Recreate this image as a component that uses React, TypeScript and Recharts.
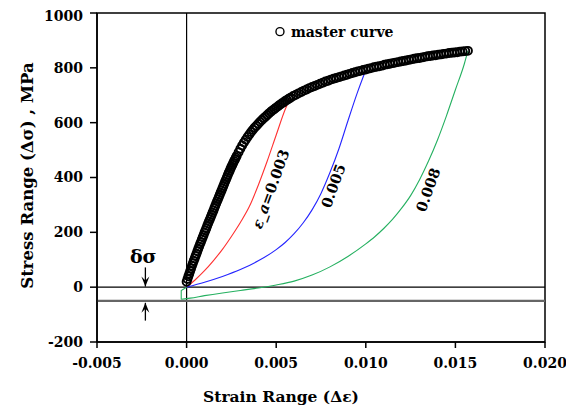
import React from 'react';
import { ComposedChart, Line, Scatter, XAxis, YAxis, ReferenceLine, ReferenceArea } from 'recharts';

const FONT = '"DejaVu Serif", serif';

const xTicks = [-0.005, 0, 0.005, 0.01, 0.015, 0.02];
const yTicks = [-200, 0, 200, 400, 600, 800, 1000];

const masterStrain = [
  0.0, 0.00005, 0.0001, 0.00015, 0.0002, 0.00025, 0.0003, 0.00035, 0.0004, 0.00045,
  0.0005, 0.00055, 0.0006, 0.00065, 0.0007, 0.00075, 0.0008, 0.00085, 0.0009, 0.00095,
  0.001, 0.00105, 0.0011, 0.00115, 0.0012, 0.00125, 0.0013, 0.00135, 0.0014, 0.00145,
  0.0015, 0.00155, 0.0016, 0.00165, 0.0017, 0.00175, 0.0018, 0.00185, 0.0019, 0.00195,
  0.002, 0.00205, 0.0021, 0.00215, 0.0022, 0.00225, 0.0023, 0.00235, 0.0024, 0.00245,
  0.0025, 0.00255, 0.0026, 0.00265, 0.0027, 0.00275, 0.0028,
  0.0029, 0.003, 0.0031, 0.0032, 0.0033, 0.0034, 0.0035, 0.0036, 0.0037, 0.0038,
  0.0039, 0.004, 0.0041, 0.0042, 0.0043, 0.0044, 0.0045, 0.0046, 0.0047, 0.0048,
  0.0049, 0.005, 0.0051, 0.0052, 0.0053, 0.0054, 0.0055, 0.0056, 0.0057, 0.0058,
  0.00595, 0.0061, 0.00625, 0.0064, 0.00655, 0.0067, 0.00685, 0.007, 0.00715, 0.0073,
  0.00745, 0.0076, 0.00775, 0.0079, 0.00805, 0.0082, 0.00835, 0.0085, 0.00865, 0.0088,
  0.00895, 0.0091, 0.00925, 0.0094, 0.00955, 0.0097, 0.00985, 0.01, 0.01015, 0.0103,
  0.01045, 0.0106, 0.01075, 0.0109, 0.01105, 0.0112, 0.01135, 0.0115, 0.01165, 0.0118,
  0.01195, 0.0121, 0.01225, 0.0124, 0.01255, 0.0127, 0.01285, 0.013, 0.01315, 0.0133,
  0.01345, 0.0136, 0.01375, 0.0139, 0.01405, 0.0142, 0.01435, 0.0145, 0.01465, 0.0148,
  0.01495, 0.0151, 0.01525, 0.0154, 0.01555, 0.0157,
];
const masterStress = [
  20, 30, 40, 49, 59, 68, 78, 87, 96, 105,
  114, 122, 131, 140, 148, 157, 165, 174, 182, 190,
  199, 207, 215, 224, 232, 240, 248, 256, 264, 272,
  280, 289, 297, 305, 313, 321, 329, 337, 345, 353,
  361, 369, 377, 385, 393, 401, 409, 417, 424, 432,
  439, 446, 453, 460, 466, 473, 479,
  492, 505, 517, 528, 538, 548, 557, 566, 574, 582,
  589, 596, 603, 610, 616, 622, 628, 634, 640, 645,
  650, 655, 660, 665, 670, 674, 679, 683, 687, 691,
  697, 702, 707, 712, 717, 721, 726, 730, 734, 738,
  742, 746, 750, 753, 757, 760, 763, 766, 769, 772,
  775, 778, 781, 784, 787, 789, 792, 794, 797, 799,
  802, 804, 806, 808, 811, 813, 815, 817, 819, 821,
  823, 825, 827, 829, 831, 833, 835, 836, 838, 840,
  842, 843, 845, 846, 848, 849, 851, 852, 854, 855,
  856, 857, 859, 860, 861, 862,
];

const redStrain = [0, 0.0005, 0.001, 0.0015, 0.002, 0.0025, 0.003, 0.0035, 0.004, 0.0045, 0.005, 0.0055, 0.0058];
const redStress = [0, 28, 60, 97, 138, 185, 236, 294, 372, 460, 555, 648, 692];

const blueStrain = [0, 0.001, 0.002, 0.003, 0.004, 0.005, 0.0055, 0.006, 0.0065, 0.007, 0.0075, 0.008, 0.0085, 0.009, 0.0095, 0.01];
const blueStress = [0, 18, 39, 64, 96, 137, 163, 195, 234, 282, 342, 418, 505, 606, 704, 792];

const greenHookStrain = [0, -0.0003, -0.0003];
const greenHookStress = [0, -12, -44];
const greenStrain = [-0.0003, 0.0002, 0.001, 0.002, 0.003, 0.004, 0.005, 0.006, 0.007, 0.008, 0.009, 0.01, 0.0105, 0.011, 0.0115, 0.012, 0.0125, 0.013, 0.0135, 0.014, 0.0145, 0.015, 0.0155, 0.0157];
const greenStress = [-44, -40, -31, -21, -12, -3, 8, 22, 44, 74, 112, 158, 184, 214, 248, 288, 334, 392, 460, 537, 625, 720, 815, 862];

const labelTexts = ['ε_a=0.003', '0.005', '0.008'];
const labelStrain = [0.00465, 0.00817, 0.01346];
const labelStress = [359, 370, 355];

const legendStrain = [0.00521];
const legendStress = [932];

const deltaLabelStrain = [-0.00242];
const deltaLabelStress = [112];
const arrowDownStrain = [-0.0023, -0.0023];
const arrowDownStress = [72, 2];
const arrowUpStrain = [-0.0023, -0.0023];
const arrowUpStress = [-122, -57];

const zip = (xs: number[], ys: number[]) => xs.map((x, i) => ({ x, y: ys[i] }));

const masterData = zip(masterStrain, masterStress);
const redData = zip(redStrain, redStress);
const blueData = zip(blueStrain, blueStress);
const greenHookData = zip(greenHookStrain, greenHookStress);
const greenData = zip(greenStrain, greenStress);
const labelData = labelStrain.map((x, i) => ({ x, y: labelStress[i], text: labelTexts[i] }));
const legendData = zip(legendStrain, legendStress);
const deltaData = zip(deltaLabelStrain, deltaLabelStress);
const downData = zip(arrowDownStrain, arrowDownStress);
const upData = zip(arrowUpStrain, arrowUpStress);

const CircleShape = (p: any) => (
  <circle cx={p.cx} cy={p.cy} r={4} fill="none" stroke="#000" strokeWidth={1.9} />
);

const LegendShape = (p: any) => (
  <g>
    <circle cx={p.cx} cy={p.cy} r={4} fill="none" stroke="#000" strokeWidth={1.4} />
    <text x={p.cx + 11} y={p.cy} dominantBaseline="central" fontFamily={FONT} fontWeight="bold" fontSize={14} fill="#000">
      master curve
    </text>
  </g>
);

const RotLabel = (p: any) => {
  const t: string = p.payload.text;
  return (
    <text
      x={p.cx}
      y={p.cy}
      transform={`rotate(-70 ${p.cx} ${p.cy})`}
      textAnchor="middle"
      dominantBaseline="central"
      fontFamily={FONT}
      fontWeight="bold"
      fontSize={14.5}
      fill="#000"
    >
      {t.startsWith('ε_a') ? (
        <>
          <tspan fontStyle="italic">ε_a</tspan>
          <tspan>{t.slice(3)}</tspan>
        </>
      ) : (
        t
      )}
    </text>
  );
};

const DeltaLabel = (p: any) => (
  <text x={p.cx} y={p.cy} textAnchor="middle" dominantBaseline="central" fontFamily={FONT} fontWeight="bold" fontSize={19} fill="#000">
    δσ
  </text>
);

const headDown = (p: any) =>
  p.index === 1 ? (
    <path key={`d${p.index}`} d={`M${p.cx - 4},${p.cy - 10} L${p.cx},${p.cy} L${p.cx + 4},${p.cy - 10} L${p.cx},${p.cy - 6} Z`} fill="#000" />
  ) : (
    <g key={`d${p.index}`} />
  );
const headUp = (p: any) =>
  p.index === 1 ? (
    <path key={`u${p.index}`} d={`M${p.cx - 4},${p.cy + 10} L${p.cx},${p.cy} L${p.cx + 4},${p.cy + 10} L${p.cx},${p.cy + 6} Z`} fill="#000" />
  ) : (
    <g key={`u${p.index}`} />
  );

const tickStyle = { fontFamily: FONT, fontWeight: 'bold', fontSize: 14, fill: '#000' } as any;

export default function App() {
  return (
    <ComposedChart width={560} height={400} margin={{ top: 5, right: 23, left: 0, bottom: 36 }}>
      <XAxis
        type="number"
        dataKey="x"
        domain={[-0.005, 0.02]}
        ticks={xTicks}
        allowDataOverflow
        tickFormatter={(v: number) => v.toFixed(3)}
        tick={tickStyle}
        tickSize={6}
        tickMargin={10}
        height={30}
        axisLine={{ stroke: '#000', strokeWidth: 1.5 }}
        tickLine={{ stroke: '#000', strokeWidth: 1.5 }}
        label={{
          content: (props: any) => {
            const vb = props.viewBox;
            return (
              <text x={vb.x + vb.width / 2 - 40} y={vb.y + 60} textAnchor="middle" fontFamily={FONT} fontWeight="bold" fontSize={15.5} fill="#000">
                Strain Range (Δε)
              </text>
            );
          },
        }}
      />
      <YAxis
        type="number"
        domain={[-200, 1000]}
        ticks={yTicks}
        allowDataOverflow
        tick={tickStyle}
        tickSize={7}
        tickMargin={7}
        width={89}
        axisLine={{ stroke: '#000', strokeWidth: 1.5 }}
        tickLine={{ stroke: '#000', strokeWidth: 1.5 }}
        label={{
          content: (props: any) => {
            const vb = props.viewBox;
            const cx = 19;
            const cy = vb.y + vb.height / 2 - 2;
            return (
              <text x={cx} y={cy} transform={`rotate(-90 ${cx} ${cy})`} textAnchor="middle" dominantBaseline="central" fontFamily={FONT} fontWeight="bold" fontSize={16.5} fill="#000">
                Stress Range (Δσ) , MPa
              </text>
            );
          },
        }}
      />
      <ReferenceArea x1={-0.005} x2={0.02} y1={-200} y2={1000} fill="none" stroke="#000" strokeWidth={1.5} fillOpacity={0} />
      <ReferenceLine x={0} stroke="#000" strokeWidth={1.2} />
      <ReferenceLine y={0} stroke="#000" strokeWidth={1.2} />
      <ReferenceLine y={-50} stroke="#666" strokeWidth={2.2} />
      <Line data={redData} dataKey="y" type="monotone" stroke="#ff3030" strokeWidth={1.1} dot={false} isAnimationActive={false} />
      <Line data={blueData} dataKey="y" type="monotone" stroke="#2424ff" strokeWidth={1.1} dot={false} isAnimationActive={false} />
      <Line data={greenHookData} dataKey="y" type="linear" stroke="#25b060" strokeWidth={1.1} dot={false} isAnimationActive={false} />
      <Line data={greenData} dataKey="y" type="monotone" stroke="#25b060" strokeWidth={1.1} dot={false} isAnimationActive={false} />
      <Scatter data={masterData} dataKey="y" shape={CircleShape} isAnimationActive={false} />
      <Scatter data={legendData} dataKey="y" shape={LegendShape} isAnimationActive={false} />
      <Scatter data={labelData} dataKey="y" shape={RotLabel} isAnimationActive={false} />
      <Scatter data={deltaData} dataKey="y" shape={DeltaLabel} isAnimationActive={false} />
      <Line data={downData} dataKey="y" type="linear" stroke="#000" strokeWidth={1.3} dot={headDown} isAnimationActive={false} />
      <Line data={upData} dataKey="y" type="linear" stroke="#000" strokeWidth={1.3} dot={headUp} isAnimationActive={false} />
    </ComposedChart>
  );
}
